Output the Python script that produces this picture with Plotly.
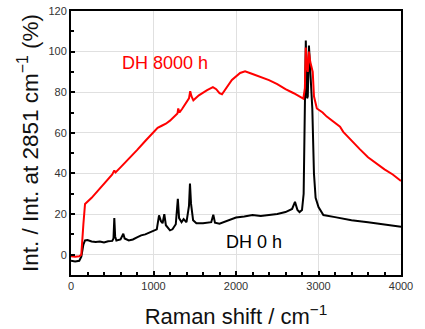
import plotly.graph_objects as go

# DH 8000 h (red)
red_x = [0, 50, 100, 125, 150, 170, 250, 350, 450, 500, 525, 540, 600, 700, 800, 900, 1000, 1050, 1100,
         1150, 1200, 1250, 1290, 1300, 1315, 1350, 1400, 1430, 1445, 1460, 1483, 1550, 1650, 1720, 1760,
         1800, 1830, 1880, 1950, 2050, 2110, 2200, 2300, 2400, 2500, 2600, 2700, 2780, 2816, 2835, 2846,
         2860, 2870, 2884, 2900, 2930, 2945, 2980, 3050, 3100, 3200, 3261, 3300, 3400, 3500, 3600, 3700,
         3800, 3900, 4000]
red_y = [-0.8, -1.0, -0.8, 0, 15, 25, 28, 32.5, 37, 39.5, 41.5, 40.5, 43, 47, 51.5, 56, 60, 62.5, 63.5,
         64.5, 66, 68, 69.5, 72, 70, 72, 75, 77, 80.5, 78, 76, 78.5, 81, 82.5, 81.5,
         79.5, 79, 82, 86, 89.5, 90.3, 89, 87.5, 86, 84, 81.5, 79.5, 77.5, 76.8, 82, 102,
         92, 90, 100, 95, 90, 78, 72, 70, 68, 65, 63, 60.5, 56, 52, 48, 45,
         42, 39.5, 36.3]

# DH 0 h (black)
blk_x = [0, 50, 100, 125, 150, 170, 200, 250, 300, 350, 400, 450, 500, 515, 525, 535, 550, 600, 634, 650,
         700, 750, 800, 850, 900, 950, 1000, 1040, 1067, 1090, 1110, 1131, 1150, 1200, 1230, 1270, 1295,
         1310, 1340, 1365, 1400, 1430, 1442, 1455, 1480, 1520, 1600, 1700, 1725, 1745, 1800, 1900, 2000,
         2100, 2200, 2300, 2400, 2500, 2600, 2680, 2715, 2745, 2770, 2800, 2820, 2835, 2846, 2862, 2870,
         2884, 2900, 2925, 2945, 2965, 3000, 3059, 3200, 3400, 3600, 3800, 4000]
blk_y = [-3, -3.3, -3, -1, 5, 7, 7.2, 6.5, 6.2, 6.5, 6.0, 6.6, 6.8, 8, 18, 9, 7, 7.5, 10.3, 8,
         7, 7.5, 8.5, 9.5, 10, 10.8, 11.5, 12.5, 19.4, 16.5, 15.5, 20, 14.5, 12, 12.5, 15, 27.5,
         18, 16, 17.5, 16, 24, 35, 25, 17, 15.5, 15.5, 16, 19.7, 15.8, 15.3, 17, 18.3,
         18.8, 19.5, 19, 19.5, 20, 21, 22.5, 26, 22, 21, 22, 30, 70, 105.5, 77, 78,
         103, 92, 72, 40, 28, 23.5, 19.5, 18.5, 17, 16, 15, 13.7]

FONT = "Liberation Sans, Arial, sans-serif"

fig = go.Figure()
fig.add_trace(go.Scatter(x=blk_x, y=blk_y, mode="lines", line=dict(color="#000000", width=2), showlegend=False))
fig.add_trace(go.Scatter(x=red_x, y=red_y, mode="lines", line=dict(color="#ff0000", width=2), showlegend=False))

fig.add_annotation(x=1140, y=94.6, text="DH 8000 h", showarrow=False,
                   font=dict(family=FONT, size=18, color="#ff0000"))
fig.add_annotation(x=2224, y=6.1, text="DH 0 h", showarrow=False,
                   font=dict(family=FONT, size=18, color="#000000"))

fig.update_layout(
    width=425, height=329,
    margin=dict(l=71, r=24, t=11, b=54),
    paper_bgcolor="white", plot_bgcolor="white",
    font=dict(family=FONT, color="#333333"),
    xaxis=dict(range=[0, 4000], dtick=1000, tick0=0, automargin=False,
               showgrid=True, gridcolor="#e0e0e0", gridwidth=1, zeroline=False,
               showline=True, linecolor="black", linewidth=2, mirror=True,
               ticks="inside", ticklen=4, tickwidth=1.5, tickcolor="black",
               minor=dict(dtick=200, ticks="inside", ticklen=3, tickcolor="black", showgrid=False),
               tickfont=dict(size=11, color="#333333"),
               title=dict(text="Raman shift / cm<sup>−1</sup>", font=dict(size=22, color="#111111"), standoff=19)),
    yaxis=dict(range=[-10, 120], dtick=20, tick0=0, automargin=False,
               showgrid=True, gridcolor="#e0e0e0", gridwidth=1, zeroline=False,
               showline=True, linecolor="black", linewidth=2, mirror=True,
               ticks="inside", ticklen=4, tickwidth=1.5, tickcolor="black",
               minor=dict(dtick=10, ticks="inside", ticklen=3, tickcolor="black", showgrid=False),
               tickfont=dict(size=11, color="#333333"),
               title=dict(text="Int. / Int. at 2851 cm<sup>−1</sup> (%)", font=dict(size=22.5, color="#111111"), standoff=4)),
)

fig.write_html("out.html")
